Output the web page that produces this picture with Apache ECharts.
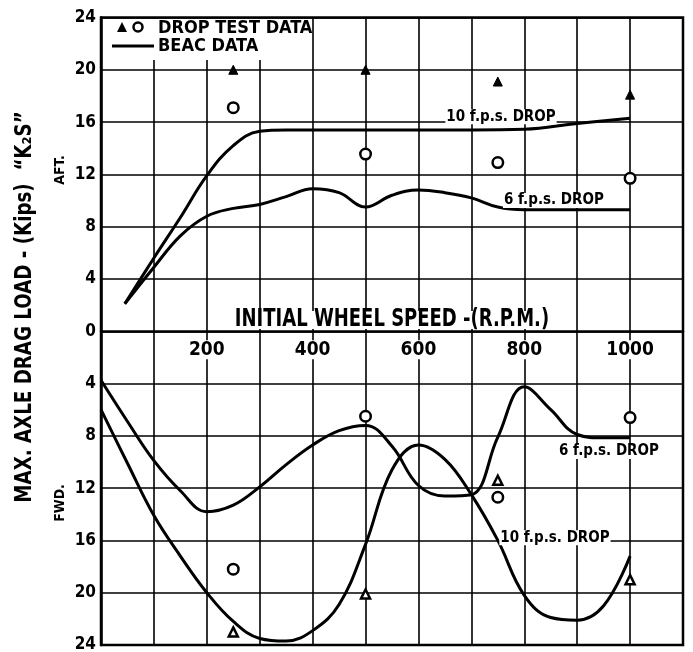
<!DOCTYPE html>
<html>
<head>
<meta charset="utf-8">
<script src="https://cdn.jsdelivr.net/npm/echarts@6/dist/echarts.min.js"></script>
<style>
html,body{margin:0;padding:0;background:#fff;}
#chart{width:693px;height:652px;}
</style>
</head>
<body>
<div id="chart"></div>
<script>
// ---- data (x = initial wheel speed RPM, y = drag load kips; AFT positive, FWD negative)
var xTickLabels = [200, 400, 600, 800, 1000];
var yTickLabels = [24, 20, 16, 12, 8, 4, 0, 4, 8, 12, 16, 20, 24];

var aft10 = [[45,2.1],[100,5.6],[150,8.7],[200,11.9],[250,14.2],[300,15.3],[350,15.4],[400,15.4],[500,15.4],[600,15.4],[700,15.4],[800,15.45],[900,15.9],[1000,16.3]];
var aft6 = [[45,2.1],[100,4.9],[150,7.3],[200,8.8],[250,9.4],[300,9.7],[350,10.3],[400,10.9],[450,10.6],[500,9.5],[550,10.4],[600,10.8],[650,10.6],[700,10.2],[750,9.5],[800,9.3],[900,9.3],[1000,9.3]];
var fwd6 = [[0,-3.75],[50,-6.9],[100,-9.9],[150,-12.2],[200,-13.8],[250,-13.3],[300,-11.9],[350,-10.2],[400,-8.7],[450,-7.6],[500,-7.2],[550,-8.8],[600,-11.8],[650,-12.6],[700,-12.5],[750,-8.1],[800,-4.25],[850,-6.0],[900,-7.9],[950,-8.15],[1000,-8.15]];
var fwd10 = [[0,-6],[50,-10.1],[100,-14.1],[150,-17.2],[200,-20],[250,-22.2],[300,-23.5],[350,-23.7],[400,-22.9],[450,-20.9],[500,-16.3],[550,-10.6],[600,-8.7],[650,-9.8],[700,-12.5],[750,-16],[800,-20.2],[850,-21.9],[900,-22.1],[950,-21],[1000,-17.2]];

var aftTriangles = [[250,20],[500,20],[750,19.1],[1000,18.1]];
var aftCircles = [[250,17.1],[500,13.55],[750,12.9],[1000,11.7]];
var fwdTriangles = [[250,-23.0],[500,-20.1],[750,-11.4],[1000,-19.0]];
var fwdCircles = [[250,-18.2],[500,-6.5],[750,-12.7],[1000,-6.6]];

var curveLabels = [[756,16.4,'10 f.p.s. DROP'],[856,10.0,'6 f.p.s. DROP'],[960,-9.2,'6 f.p.s. DROP'],[858,-15.8,'10 f.p.s. DROP']];

var FONT = '"DejaVu Sans Condensed", "DejaVu Sans", sans-serif';
var GRID_TOP = 17.5, GRID_BOTTOM = 7, H = 652;
var chart = echarts.init(document.getElementById('chart'), null, {renderer:'canvas'});

function lineSeries(name, data){
  return {name:name, type:'line', data:data, smooth:0.4, showSymbol:false, symbol:'none',
    lineStyle:{color:'#000', width:3}, z:3};
}
function scatter(name, data, sym, filled){
  return {name:name, type:'scatter', data:data, symbol:sym, symbolSize: sym==='triangle' ? 9 : 10.5,
    itemStyle:{color: filled?'#000':'#fff', borderColor:'#000', borderWidth: filled?1:2.5, opacity:1}, z:5};
}

var plotH = H - GRID_TOP - GRID_BOTTOM;
var option = {
  backgroundColor:'#fff',
  animation:false,
  grid:{left:101, right:10, top:GRID_TOP, bottom:GRID_BOTTOM, outerBoundsMode:'none', containLabel:false,
    show:true, borderColor:'#000', borderWidth:2.5, backgroundColor:'transparent'},
  xAxis:{type:'value', min:0, max:1100, interval:100, position:'bottom', offset:-plotH/2,
    axisLine:{show:true, onZero:false, lineStyle:{color:'#000', width:2.5}},
    axisTick:{show:false},
    axisLabel:{margin:9, color:'#000', fontFamily:FONT, fontWeight:'bold', fontSize:19,
      backgroundColor:'#fff', padding:[0,3],
      formatter:function(v){ return xTickLabels.indexOf(v) >= 0 ? String(v) : ''; }},
    splitLine:{show:true, lineStyle:{color:'#000', width:1.6}}
  },
  yAxis:{type:'value', min:-24, max:24, interval:4,
    axisLine:{show:true, onZero:false, lineStyle:{color:'#000', width:2.5}},
    axisTick:{show:false},
    axisLabel:{margin:5, color:'#000', fontFamily:FONT, fontWeight:'bold', fontSize:17,
      formatter:function(v){ var i = Math.round((24 - v)/4); return String(yTickLabels[i]); }},
    splitLine:{show:true, lineStyle:{color:'#000', width:1.6}}
  },
  series:[
    lineSeries('10 f.p.s. DROP (AFT)', aft10),
    lineSeries('6 f.p.s. DROP (AFT)', aft6),
    lineSeries('6 f.p.s. DROP (FWD)', fwd6),
    lineSeries('10 f.p.s. DROP (FWD)', fwd10),
    scatter('DROP TEST DATA ▲ AFT', aftTriangles, 'triangle', true),
    scatter('DROP TEST DATA O AFT', aftCircles, 'circle', false),
    scatter('DROP TEST DATA ▲ FWD', fwdTriangles, 'triangle', false),
    scatter('DROP TEST DATA O FWD', fwdCircles, 'circle', false),
    {name:'curve labels', type:'scatter', symbolSize:0, z:6, itemStyle:{opacity:1},
      data: curveLabels.map(function(d){ return {value:[d[0],d[1]], label:{formatter:d[2]}}; }),
      label:{show:true, position:'inside', color:'#000', opacity:1, fontFamily:FONT, fontWeight:'bold', fontSize:15,
        backgroundColor:'#fff', padding:[0,1]}}
  ],
  graphic:[
    {type:'rect', left:103, top:19, shape:{width:209, height:41}, style:{fill:'#fff'}, z:10},
    {type:'polygon', shape:{points:[[117,32],[122,22],[127,32]]}, style:{fill:'#000'}, z:11},
    {type:'circle', shape:{cx:138, cy:27, r:4.5}, style:{fill:'#fff', stroke:'#000', lineWidth:2.5}, z:11},
    {type:'text', x:158, y:28, style:{text:'DROP TEST DATA', fill:'#000', font:'bold 18px '+FONT, textVerticalAlign:'middle'}, z:11},
    {type:'line', shape:{x1:112, y1:46, x2:154, y2:46}, style:{stroke:'#000', lineWidth:3}, z:11},
    {type:'text', x:158, y:46, style:{text:'BEAC DATA', fill:'#000', font:'bold 18px '+FONT, textVerticalAlign:'middle'}, z:11},
    {type:'text', x:392, y:320, scaleY:1.2, style:{text:'INITIAL WHEEL SPEED -(R.P.M.)', fill:'#000', font:'bold 20px '+FONT, lineHeight:15, textAlign:'center', textVerticalAlign:'middle', backgroundColor:'#fff', padding:[0,2]}, z:11},
    {type:'text', x:25, y:307, rotation:Math.PI/2, scaleY:1.12, style:{text:'MAX. AXLE DRAG LOAD - (Kips)  \u201CK\u2082S\u201D', fill:'#000', font:'bold 20.3px '+FONT, textAlign:'center', textVerticalAlign:'middle'}, z:11},
    {type:'text', x:60, y:170, rotation:Math.PI/2, style:{text:'AFT.', fill:'#000', font:'bold 14px '+FONT, textAlign:'center', textVerticalAlign:'middle'}, z:11},
    {type:'text', x:60, y:503, rotation:Math.PI/2, style:{text:'FWD.', fill:'#000', font:'bold 14px '+FONT, textAlign:'center', textVerticalAlign:'middle'}, z:11}
  ]
};
chart.setOption(option);
</script>
</body>
</html>
